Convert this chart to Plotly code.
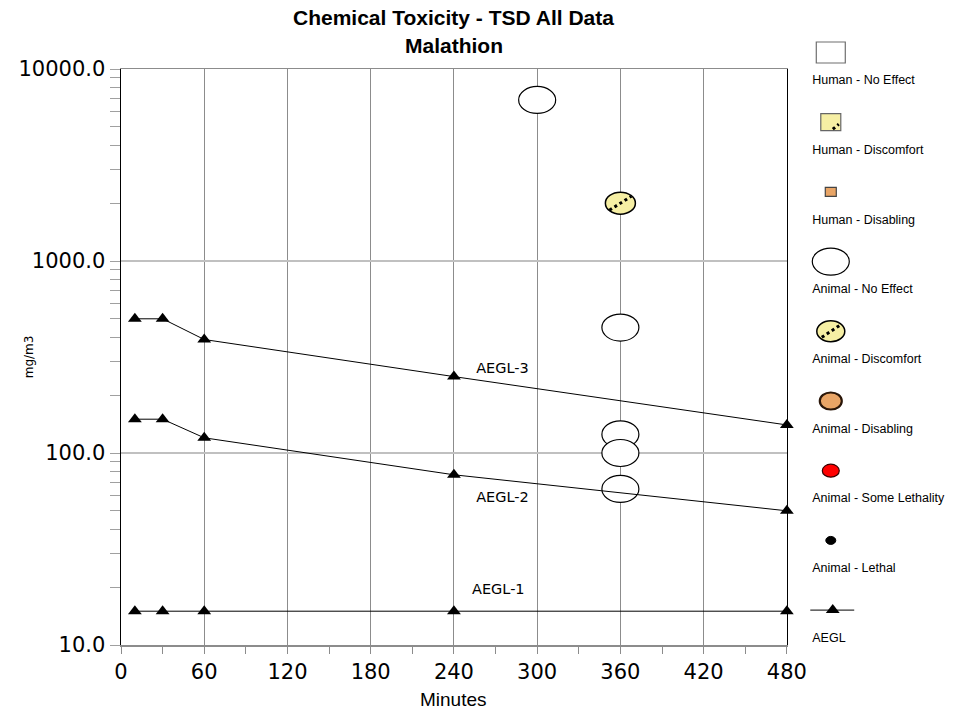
import plotly.graph_objects as go

# ---------------- data ----------------
minutes = [10, 30, 60, 240, 480]
aegl3 = [500, 500, 390, 250, 140]
aegl2 = [150, 150, 120, 77, 50]
aegl1 = [15, 15, 15, 15, 15]
aegl_names = ["AEGL-3", "AEGL-2", "AEGL-1"]
aegl_label_x = [275, 275, 272]
aegl_label_y = [274, 58, 19.3]

animal_no_effect_x = [300, 360, 360, 360, 360]
animal_no_effect_y = [6900, 450, 125, 100, 65]
animal_discomfort_x = [360]
animal_discomfort_y = [2000]

x_tick_vals = [0, 60, 120, 180, 240, 300, 360, 420, 480]
y_tick_vals = [10, 100, 1000, 10000]
y_tick_text = ["10.0", "100.0", "1000.0", "10000.0"]

legend_labels = ["Human - No Effect", "Human - Discomfort", "Human - Disabling",
                 "Animal - No Effect", "Animal - Discomfort", "Animal - Disabling",
                 "Animal - Some Lethality", "Animal - Lethal", "AEGL"]

# ---------------- layout constants ----------------
W, H = 966, 710
ML, MR, MT, MB = 121, 0, 20, 65
PLOT_R, PLOT_T = 803, 69
PW = W - ML - MR
PH = H - MT - MB
x_dom = (PLOT_R - ML) / PW
y_dom = (H - MB - PLOT_T) / PH
PX_PER_DECADE = (H - MB - PLOT_T) / 3.0

YELLOW = "#f6efa4"
TAN = "#e9a566"
FONT_T = "Liberation Sans, Arial, sans-serif"
FONT_W = "DejaVu Sans, sans-serif"


def py(p):
    return (H - MB - p) / PH


def logspan(v, half_px):
    f = 10 ** (half_px / PX_PER_DECADE)
    return v / f, v * f


fig = go.Figure()

# AEGL lines
for vals in (aegl3, aegl2, aegl1):
    fig.add_trace(go.Scatter(
        x=minutes, y=vals, mode="lines+markers",
        line=dict(color="black", width=1),
        marker=dict(symbol="triangle-up", size=12, color="black"),
        cliponaxis=False, hoverinfo="skip"))

fig.add_trace(go.Scatter(
    x=aegl_label_x, y=aegl_label_y, mode="text", text=aegl_names,
    textfont=dict(family=FONT_W, size=14.5, color="black"),
    hoverinfo="skip"))

shapes = []


def plot_ellipse(xv, yv, w, h, fill, line, lw):
    y0, y1 = logspan(yv, h / 2)
    shapes.append(dict(type="circle", xref="x", yref="y",
                       xsizemode="pixel", xanchor=xv, x0=-w / 2, x1=w / 2,
                       y0=y0, y1=y1,
                       fillcolor=fill, line=dict(color=line, width=lw),
                       layer="between"))


def plot_hatch(xv, yv, hw, hh):
    y0, y1 = logspan(yv, hh)
    shapes.append(dict(type="line", xref="x", yref="y",
                       xsizemode="pixel", xanchor=xv, x0=-hw, x1=hw,
                       y0=y0, y1=y1,
                       line=dict(color="black", width=3, dash="dot"),
                       layer="between"))


def legend_shape(kind, xa, ya, w, h, fill, line, lw):
    shapes.append(dict(type=kind, xref="x2", yref="y2",
                       xsizemode="pixel", ysizemode="pixel",
                       xanchor=xa, yanchor=ya,
                       x0=-w / 2, x1=w / 2, y0=-h / 2, y1=h / 2,
                       fillcolor=fill, line=dict(color=line, width=lw),
                       layer="above"))


def legend_hatch(xa, ya, x0, y0, x1, y1):
    shapes.append(dict(type="line", xref="x2", yref="y2",
                       xsizemode="pixel", ysizemode="pixel",
                       xanchor=xa, yanchor=ya, x0=x0, x1=x1, y0=y0, y1=y1,
                       line=dict(color="black", width=3, dash="dot"),
                       layer="above"))


for xv, yv in zip(animal_no_effect_x, animal_no_effect_y):
    plot_ellipse(xv, yv, 37, 27, "white", "black", 1.2)
for xv, yv in zip(animal_discomfort_x, animal_discomfort_y):
    plot_ellipse(xv, yv, 30, 22, YELLOW, "black", 1.5)
    plot_hatch(xv, yv, 11, 7)

# ---------------- legend (own axis in pixel units) ----------------
LX = 848
sym_y = [52.5 + i * 69.7 for i in range(len(legend_labels))]
txt_y = [v + 28.5 for v in sym_y]

legend_syms = [
    ("rect", 29, 21, "white", "#6e6e6e", 1.2),
    ("rect", 20, 17, YELLOW, "#666666", 1.2),
    ("rect", 11, 9, TAN, "#444444", 1.2),
    ("circle", 37, 27, "white", "black", 1.2),
    ("circle", 28, 21, YELLOW, "black", 1.5),
    ("circle", 22, 17, TAN, "#2a1608", 2.2),
    ("circle", 17, 13, "#ff0000", "#3a0000", 1.2),
    ("circle", 10, 8, "black", "black", 1.0),
]
for (kind, w, h, fill, line, lw), yv in zip(legend_syms, sym_y):
    legend_shape(kind, LX, yv, w, h, fill, line, lw)
legend_hatch(LX, sym_y[1], 2, -7, 8, -2)
legend_hatch(LX, sym_y[4], -9, -6, 9, 6)

fig.add_trace(go.Scatter(
    x=[827, 872], y=[sym_y[8], sym_y[8]], mode="lines",
    line=dict(color="black", width=1), xaxis="x2", yaxis="y2",
    cliponaxis=False, hoverinfo="skip"))
fig.add_trace(go.Scatter(
    x=[850], y=[sym_y[8]], mode="markers",
    marker=dict(symbol="triangle-up", size=12, color="black"),
    xaxis="x2", yaxis="y2", cliponaxis=False, hoverinfo="skip"))
fig.add_trace(go.Scatter(
    x=[829] * len(legend_labels), y=txt_y, mode="text", text=legend_labels,
    textposition="middle right",
    textfont=dict(family=FONT_T, size=12.5, color="black"),
    xaxis="x2", yaxis="y2", cliponaxis=True, hoverinfo="skip"))

annotations = [
    dict(text="<b>Chemical Toxicity - TSD All Data</b>", xref="x domain", yref="paper",
         x=0.5, y=py(18), xanchor="center", yanchor="middle", showarrow=False,
         font=dict(family=FONT_T, size=21, color="black")),
    dict(text="<b>Malathion</b>", xref="x domain", yref="paper",
         x=0.5, y=py(45), xanchor="center", yanchor="middle", showarrow=False,
         font=dict(family=FONT_T, size=21, color="black")),
    dict(text="Minutes", xref="x domain", yref="paper",
         x=0.5, y=py(699), xanchor="center", yanchor="middle", showarrow=False,
         font=dict(family=FONT_T, size=19, color="black")),
    dict(text="mg/m3", xref="paper", yref="y domain",
         x=(27 - ML) / PW, y=0.5, xanchor="center", yanchor="middle", showarrow=False,
         textangle=-90, font=dict(family=FONT_W, size=12, color="black")),
]

fig.update_layout(
    width=W, height=H,
    margin=dict(l=ML, r=MR, t=MT, b=MB, pad=0),
    paper_bgcolor="white", plot_bgcolor="white",
    showlegend=False,
    shapes=shapes, annotations=annotations,
    xaxis=dict(domain=[0, x_dom], range=[0, 480], tickvals=x_tick_vals,
               ticks="outside", ticklen=7, tickcolor="#8c8c8c", tickwidth=1,
               tickfont=dict(family=FONT_W, size=21, color="black"),
               showgrid=True, gridcolor="#8c8c8c", gridwidth=1,
               showline=True, linecolor="#8c8c8c", linewidth=1.5, mirror=True,
               zeroline=False,
               minor=dict(dtick=30, tick0=0, ticks="outside", ticklen=7,
                          tickcolor="#8c8c8c", showgrid=False)),
    yaxis=dict(domain=[0, y_dom], type="log", range=[1, 4],
               tickvals=y_tick_vals, ticktext=y_tick_text,
               ticks="outside", ticklen=10, tickcolor="#a0a0a0",
               tickfont=dict(family=FONT_W, size=21, color="black"),
               showgrid=True, gridcolor="#c0c0c0", gridwidth=1.5,
               showline=True, linecolor="black", linewidth=1.5, mirror=True,
               zeroline=False,
               minor=dict(dtick="D1", ticks="outside", ticklen=10,
                          tickcolor="#a0a0a0", showgrid=False)),
    xaxis2=dict(domain=[x_dom, 1], range=[PLOT_R, W - MR], visible=False,
                anchor="y2", fixedrange=True),
    yaxis2=dict(domain=[0, 1], range=[H - MB, MT], visible=False,
                anchor="x2", fixedrange=True),
)

POST = """
document.body.style.margin='0px';
function fixOverflow(){
  var W=966, H=710;
  var els=document.querySelectorAll('body *');
  for (var i=0;i<els.length;i++){
    var e=els[i];
    if (e.children && e.children.length) continue;
    if (e.closest && (e.closest('#js-plotly-tester') || e.closest('.js-plotly-tester') ||
        e.closest('defs') || e.closest('clipPath'))) continue;
    var tn=(e.tagName||'').toLowerCase();
    if (tn==='text'||tn==='tspan'||tn==='script'||tn==='style') continue;
    var r=e.getBoundingClientRect();
    if (r.width===0 && r.height===0) continue;
    if (r.left<-0.5||r.top<-0.5||r.right>W+0.5||r.bottom>H+0.5){ e.style.display='none'; }
  }
}
fixOverflow();
setTimeout(fixOverflow, 30);
"""

fig.write_html(
    "out.html",
    config={"responsive": False, "displayModeBar": False, "staticPlot": True},
    post_script=POST,
)
